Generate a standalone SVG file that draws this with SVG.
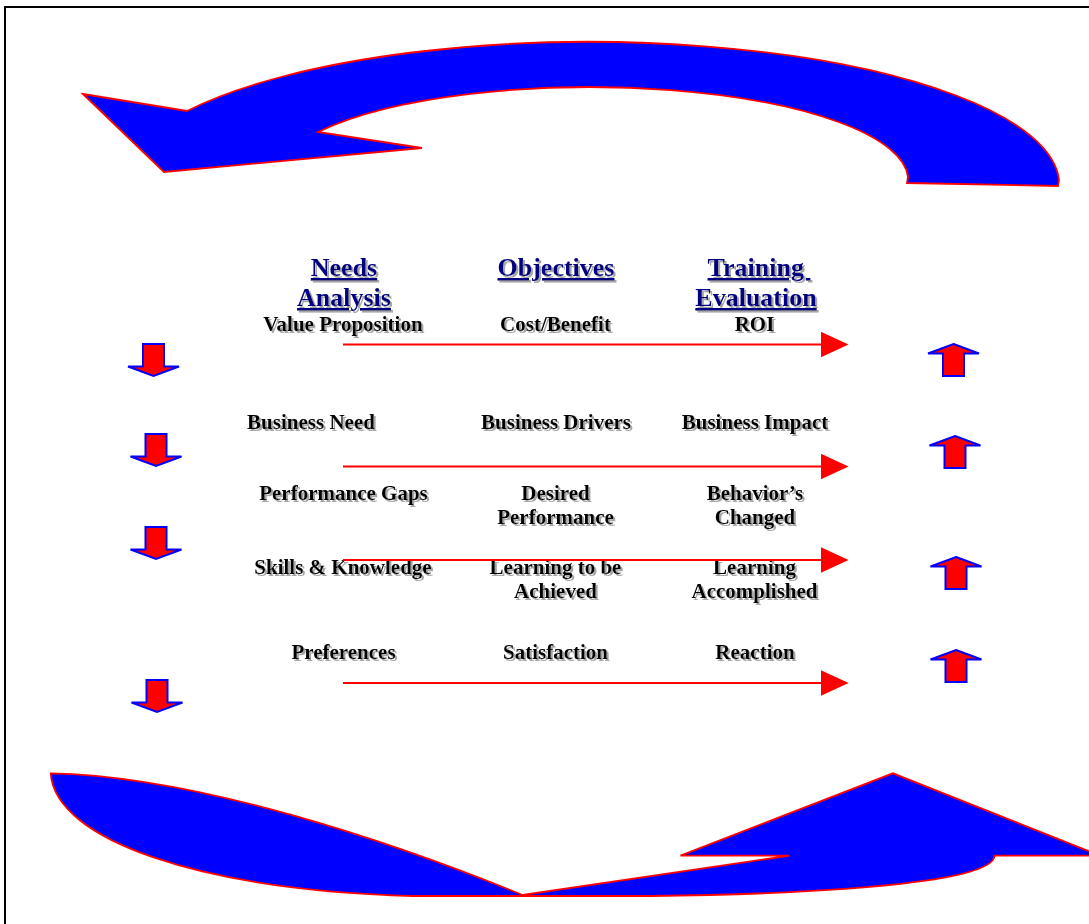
<svg xmlns="http://www.w3.org/2000/svg" width="1089" height="924" viewBox="0 0 1089 924">
<style>
.big{fill:#0000ff;stroke:#ff0000;stroke-width:1.8;stroke-linejoin:miter}
.sm{fill:#ff0000;stroke:#0000ff;stroke-width:2}
.t{font-family:"Liberation Serif","Times New Roman",serif;font-weight:bold;font-size:21px;fill:#000;text-anchor:middle;filter:url(#sh)}
.h{font-family:"Liberation Serif","Times New Roman",serif;font-weight:bold;font-size:26px;fill:#000080;text-anchor:middle;text-decoration:underline;filter:url(#sh)}
.conn{stroke:#ff0000;stroke-width:2;fill:none}
</style>
<defs>
<filter id="sh" x="-10%" y="-30%" width="120%" height="160%">
<feOffset in="SourceAlpha" dx="1.5" dy="1.5" result="o"/>
<feFlood flood-color="#a6a6a6"/>
<feComposite in2="o" operator="in" result="s"/>
<feMerge><feMergeNode in="s"/><feMergeNode in="SourceGraphic"/></feMerge>
</filter>
<marker id="ah" markerUnits="userSpaceOnUse" markerWidth="28" markerHeight="26" refX="0" refY="12.7" orient="auto">
<path d="M0,0 L27.6,12.7 L0,25.4 Z" fill="#ff0000"/>
</marker>
<path id="dn" class="sm" d="M-10.5,0 H10.5 V22.5 H25.5 L0,32 L-25.5,22.5 H-10.5 Z"/>
<path id="up" class="sm" d="M0,0 L25.5,9.5 H10.5 V32 H-10.5 V9.5 H-25.5 Z"/>
</defs>
<rect x="0" y="0" width="1089" height="924" fill="#ffffff"/>
<rect x="5" y="7" width="1100" height="930" fill="none" stroke="#000" stroke-width="2"/>

<g id="cycle-top">
<path class="big" d="M83,94 L187,111 A470 143 0 0 1 1059,180 L1058,186 L907,183 L908,177 A318 93 0 0 0 318,132 L422,148 L164,172 Z"/>
</g>
<g id="cycle-bottom">
<path class="big" d="M50.7,773.3 C200,776 400,845 522.6,895 L789.5,855.7 L680.5,855.7 L892.9,773.3 L1100,855.7 L994.4,855.7 C994,875 900,893 650,896 L413,896 C200,890 55,840 50.7,773.3 Z"/>
</g>

<g id="header-needs"><text class="h" x="344" y="276">Needs</text><text class="h" x="344" y="306">Analysis</text></g>
<g id="header-objectives"><text class="h" x="556" y="276">Objectives</text></g>
<g id="header-evaluation"><text class="h" x="759" y="276" xml:space="preserve">Training </text><text class="h" x="756" y="306">Evaluation</text></g>

<g id="n-value"><text class="t" x="343" y="331">Value Proposition</text></g>
<g id="n-cost"><text class="t" x="555.5" y="331">Cost/Benefit</text></g>
<g id="n-roi"><text class="t" x="754.5" y="331">ROI</text></g>

<g id="n-bneed"><text class="t" x="311" y="429">Business Need</text></g>
<g id="n-bdrivers"><text class="t" x="556" y="429">Business Drivers</text></g>
<g id="n-bimpact"><text class="t" x="755" y="429">Business Impact</text></g>

<g id="n-gaps"><text class="t" x="343.5" y="500">Performance Gaps</text></g>
<g id="n-desired"><text class="t" x="555.5" y="500">Desired</text><text class="t" x="555.5" y="524">Performance</text></g>
<g id="n-behavior"><text class="t" x="755" y="500">Behavior’s</text><text class="t" x="755" y="524">Changed</text></g>

<g id="n-skills"><text class="t" x="343" y="574">Skills &amp; Knowledge</text></g>
<g id="n-learning"><text class="t" x="555.5" y="574">Learning to be</text><text class="t" x="555.5" y="598">Achieved</text></g>
<g id="n-accomplished"><text class="t" x="754.5" y="574">Learning</text><text class="t" x="754.5" y="598">Accomplished</text></g>

<g id="n-pref"><text class="t" x="343.5" y="659">Preferences</text></g>
<g id="n-sat"><text class="t" x="555.5" y="659">Satisfaction</text></g>
<g id="n-reaction"><text class="t" x="755" y="659">Reaction</text></g>

<g id="down-arrows">
<use href="#dn" x="153.5" y="344"/>
<use href="#dn" x="156" y="434"/>
<use href="#dn" x="156" y="527"/>
<use href="#dn" x="157" y="680"/>
</g>
<g id="up-arrows">
<use href="#up" x="953.5" y="344"/>
<use href="#up" x="955" y="436"/>
<use href="#up" x="956" y="557"/>
<use href="#up" x="956" y="650"/>
</g>

<g id="connectors">
<line class="conn" x1="343" y1="344.5" x2="821" y2="344.5" marker-end="url(#ah)"/>
<line class="conn" x1="343" y1="466.5" x2="821" y2="466.5" marker-end="url(#ah)"/>
<line class="conn" x1="343" y1="560" x2="821" y2="560" marker-end="url(#ah)"/>
<line class="conn" x1="343" y1="683" x2="821" y2="683" marker-end="url(#ah)"/>
</g>
</svg>
